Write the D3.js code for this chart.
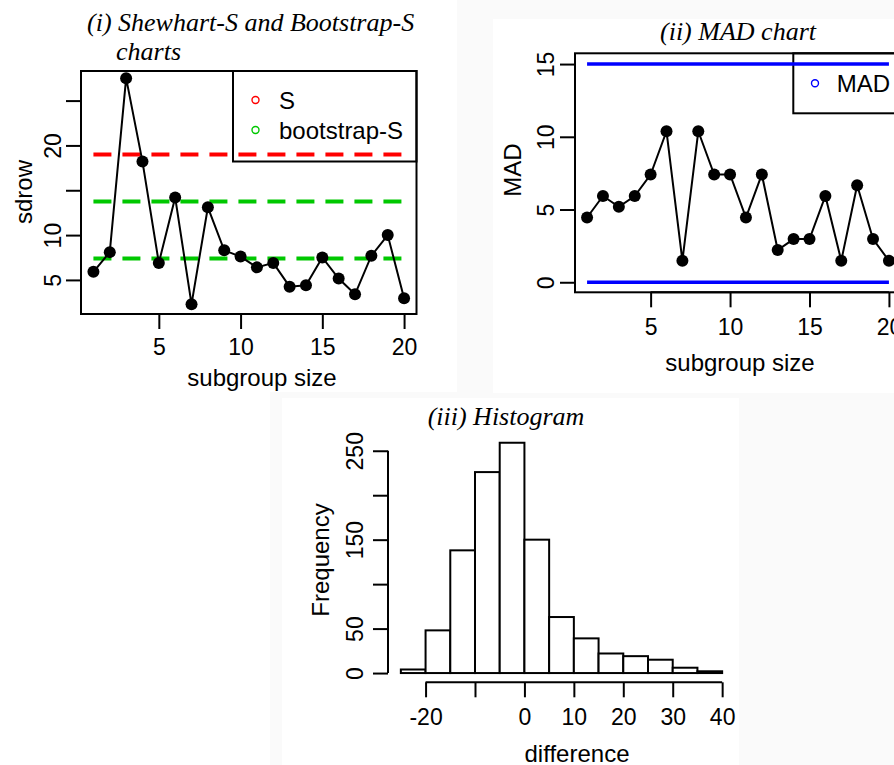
<!DOCTYPE html>
<html>
<head>
<meta charset="utf-8">
<script src="https://cdn.jsdelivr.net/npm/d3@7"></script>
<style>
	body { margin: 0; background: #fafafa; }
	svg { display: block; font-family: 'Liberation Sans', Arial, sans-serif; }
</style>
</head>
<body>
<div id="container"></div>
<script>
// subgroup index, shared by the S chart and the MAD chart
var subgroups = d3.range(1, 21);

// (i) standard deviation of each subgroup and the two kinds of limits
var sdrow = [5.9, 8.1, 27.5, 18.2, 6.9, 14.2, 2.3, 13.1, 8.3, 7.6, 6.4, 6.9, 4.25, 4.4, 7.5, 5.15, 3.4, 7.7, 10.0, 2.95];
var sLimits = [19.0];
var bootLimits = [13.75, 7.4];
var sLegend = ["S", "bootstrap-S"];

// (ii) MAD of each subgroup and its limits
var madValues = [4.45, 5.93, 5.19, 5.93, 7.41, 10.38, 1.48, 10.38, 7.41, 7.41, 4.45, 7.41, 2.22, 2.97, 2.97, 5.93, 1.48, 6.67, 2.97, 1.48];
var madLimits = [0, 15];
var madLegend = ["MAD"];

// (iii) histogram of the differences
var histBreaks = [-25, -20, -15, -10, -5, 0, 5, 10, 15, 20, 25, 30, 35, 40];
var histCounts = [4, 48, 138, 226, 259, 150, 63, 39, 22, 19, 15, 6, 2];

// tick values, and the ones R kept a label for
var xTicksSub = [5, 10, 15, 20];
var yTicksS = [5, 10, 15, 20, 25];
var yLabelsS = [5, 10, 20];
var yTicksMad = [0, 5, 10, 15];
var xTicksHist = [-20, -10, 0, 10, 20, 30, 40];
var xLabelsHist = [-20, 0, 10, 20, 30, 40];
var yTicksHist = [0, 50, 100, 150, 200, 250];
var yLabelsHist = [0, 50, 150, 250];

var config = {
	width: 894,
	height: 765,
	sans: "'Liberation Sans', Arial, sans-serif",
	serif: "'Liberation Serif', 'Times New Roman', serif",
	tickLen: 15,
	titleSize: 26,
	red: "#ff0000",
	green: "#00c800",
	blue: "#0000ff"
};

var svg = d3.select("#container")
	.append("svg")
	.attr("width", config.width)
	.attr("height", config.height);

// the three pasted R pictures sit on white over a faint grey page
[[0, 0, 457, 392], [493, 19, 401, 374], [0, 392, 270, 373], [282, 398, 457, 367]].forEach(function(r) {
	svg.append("rect")
		.attr("x", r[0]).attr("y", r[1])
		.attr("width", r[2]).attr("height", r[3])
		.attr("fill", "#fff");
});

function labelFormat(labels) {
	return function(d) { return labels.indexOf(d) >= 0 ? String(d) : ""; };
}

function drawBottomAxis(g, scale, ticks, labels, y, labelOffset) {
	var ax = g.append("g")
		.attr("transform", "translate(0," + y + ")")
		.call(d3.axisBottom(scale).tickValues(ticks).tickSize(config.tickLen).tickFormat(labelFormat(labels)));
	ax.select(".domain").remove();
	ax.attr("font-size", null).attr("font-family", null);
	ax.selectAll(".tick line").attr("stroke", "#000").attr("stroke-width", 2);
	ax.selectAll(".tick text")
		.attr("y", labelOffset)
		.attr("dy", null)
		.attr("dominant-baseline", "central")
		.attr("fill", "#000")
		.style("font-family", config.sans)
		.style("font-size", "23px");
	ax.append("line")
		.attr("x1", scale(ticks[0]))
		.attr("x2", scale(ticks[ticks.length - 1]))
		.attr("stroke", "#000")
		.attr("stroke-width", 2);
}

function drawLeftAxis(g, scale, ticks, labels, x, labelOffset) {
	var ax = g.append("g")
		.attr("transform", "translate(" + x + ",0)")
		.call(d3.axisLeft(scale).tickValues(ticks).tickSize(config.tickLen).tickFormat(labelFormat(labels)));
	ax.select(".domain").remove();
	ax.attr("font-size", null).attr("font-family", null);
	ax.selectAll(".tick line").attr("stroke", "#000").attr("stroke-width", 2);
	ax.selectAll(".tick text")
		.attr("x", 0)
		.attr("dy", null)
		.attr("text-anchor", "middle")
		.attr("dominant-baseline", "central")
		.attr("transform", "translate(" + (-labelOffset) + ",0) rotate(-90)")
		.attr("fill", "#000")
		.style("font-family", config.sans)
		.style("font-size", "23px");
	ax.append("line")
		.attr("y1", scale(ticks[0]))
		.attr("y2", scale(ticks[ticks.length - 1]))
		.attr("stroke", "#000")
		.attr("stroke-width", 2);
}

function drawText(g, txt, x, y, opts) {
	var t = g.append("text")
		.attr("x", x)
		.attr("y", y)
		.attr("text-anchor", opts.anchor || "middle")
		.attr("dominant-baseline", opts.baseline || "central")
		.style("font-family", opts.family || config.sans)
		.style("font-size", (opts.size || 24) + "px")
		.style("font-style", opts.italic ? "italic" : "normal")
		.attr("fill", "#000")
		.text(txt);
	if (opts.rotate) {
		t.attr("transform", "rotate(-90," + x + "," + y + ")");
	}
	return t;
}

function drawSeries(g, x, y, values) {
	var line = d3.line()
		.x(function(d, i) { return x(subgroups[i]); })
		.y(function(d) { return y(d); });
	g.append("path")
		.datum(values)
		.attr("d", line)
		.attr("fill", "none")
		.attr("stroke", "#000")
		.attr("stroke-width", 2);
	g.selectAll("circle.pt")
		.data(values)
		.enter()
		.append("circle")
		.attr("class", "pt")
		.attr("cx", function(d, i) { return x(subgroups[i]); })
		.attr("cy", function(d) { return y(d); })
		.attr("r", 6)
		.attr("fill", "#000");
}

function drawLimits(g, x, y, values, color, dash, width) {
	g.selectAll(null)
		.data(values)
		.enter()
		.append("line")
		.attr("x1", x(subgroups[0]))
		.attr("x2", x(subgroups[subgroups.length - 1]))
		.attr("y1", function(d) { return y(d); })
		.attr("y2", function(d) { return y(d); })
		.attr("stroke", color)
		.attr("stroke-width", width)
		.attr("stroke-dasharray", dash);
}

function drawLegend(g, box, labels, colors) {
	g.append("rect")
		.attr("x", box.x).attr("y", box.y)
		.attr("width", box.w).attr("height", box.h)
		.attr("fill", "#fff")
		.attr("stroke", "#000")
		.attr("stroke-width", 2);
	labels.forEach(function(lab, i) {
		var cy = box.y + box.first + i * box.step;
		g.append("circle")
			.attr("cx", box.x + box.mark)
			.attr("cy", cy)
			.attr("r", 3.5)
			.attr("fill", "none")
			.attr("stroke", colors[i])
			.attr("stroke-width", 1.4);
		drawText(g, lab, box.x + box.text, cy, {anchor: "start"});
	});
}

// ---------- (i) Shewhart-S and Bootstrap-S ----------
var p1 = {left: 81, right: 416.5, top: 71, bottom: 314};
var g1 = svg.append("g").attr("class", "panel-s");
var x1 = d3.scaleLinear().domain([0.24, 20.76]).range([p1.left, p1.right]);
var y1 = d3.scaleLinear().domain([1.2, 28.3]).range([p1.bottom, p1.top]);

drawLimits(g1, x1, y1, bootLimits, config.green, "18,11", 4);
drawLegend(g1, {x: 233, y: p1.top, w: p1.right - 233, h: 90.5, first: 29, step: 30, mark: 22.5, text: 46},
	sLegend, [config.red, config.green]);
// the red limit is drawn over the legend box
drawLimits(g1, x1, y1, sLimits, config.red, "18,11", 4);
drawSeries(g1, x1, y1, sdrow);

g1.append("rect")
	.attr("x", p1.left).attr("y", p1.top)
	.attr("width", p1.right - p1.left).attr("height", p1.bottom - p1.top)
	.attr("fill", "none").attr("stroke", "#000").attr("stroke-width", 2);
drawBottomAxis(g1, x1, xTicksSub, xTicksSub, p1.bottom, 33);
drawLeftAxis(g1, y1, yTicksS, yLabelsS, p1.left, 28);
drawText(g1, "subgroup size", 262, 377, {});
drawText(g1, "sdrow", 23, 192, {rotate: true});
drawText(g1, "(i) Shewhart-S and Bootstrap-S", 87, 31, {anchor: "start", baseline: "auto", family: config.serif, italic: true, size: config.titleSize});
drawText(g1, "charts", 116, 60, {anchor: "start", baseline: "auto", family: config.serif, italic: true, size: config.titleSize});

// ---------- (ii) MAD chart ----------
var p2 = {left: 575, right: 901, top: 53.3, bottom: 292.3};
var g2 = svg.append("g").attr("class", "panel-mad");
var x2 = d3.scaleLinear().domain([0.24, 20.76]).range([p2.left, p2.right]);
var y2 = d3.scaleLinear().domain([-0.69, 15.74]).range([p2.bottom, p2.top]);

drawLegend(g2, {x: 793.3, y: p2.top, w: p2.right - 793.3, h: 60, first: 30, step: 30, mark: 21.7, text: 43.4},
	madLegend, [config.blue]);
drawLimits(g2, x2, y2, madLimits, config.blue, null, 3.5);
drawSeries(g2, x2, y2, madValues);

g2.append("rect")
	.attr("x", p2.left).attr("y", p2.top)
	.attr("width", p2.right - p2.left).attr("height", p2.bottom - p2.top)
	.attr("fill", "none").attr("stroke", "#000").attr("stroke-width", 2);
drawBottomAxis(g2, x2, xTicksSub, xTicksSub, p2.bottom, 34.5);
drawLeftAxis(g2, y2, yTicksMad, yTicksMad, p2.left, 29);
drawText(g2, "subgroup size", 740, 362, {});
drawText(g2, "MAD", 512, 170, {rotate: true});
drawText(g2, "(ii) MAD chart", 738, 40, {baseline: "auto", family: config.serif, italic: true, size: config.titleSize});

// ---------- (iii) Histogram ----------
var p3 = {left: 388, right: 735, top: 433.5, bottom: 682.3};
var g3 = svg.append("g").attr("class", "panel-hist");
var x3 = d3.scaleLinear().domain([-27.6, 42.6]).range([p3.left, p3.right]);
var y3 = d3.scaleLinear().domain([-10.4, 269.4]).range([p3.bottom, p3.top]);

g3.selectAll("rect.bar")
	.data(histCounts)
	.enter()
	.append("rect")
	.attr("class", "bar")
	.attr("x", function(d, i) { return x3(histBreaks[i]); })
	.attr("width", function(d, i) { return x3(histBreaks[i + 1]) - x3(histBreaks[i]); })
	.attr("y", function(d) { return y3(d); })
	.attr("height", function(d) { return y3(0) - y3(d); })
	.attr("fill", "#fff")
	.attr("stroke", "#000")
	.attr("stroke-width", 2);

drawBottomAxis(g3, x3, xTicksHist, xLabelsHist, p3.bottom, 34.5);
drawLeftAxis(g3, y3, yTicksHist, yLabelsHist, p3.left, 33);
drawText(g3, "difference", 577, 753, {});
drawText(g3, "Frequency", 320, 560, {rotate: true});
drawText(g3, "(iii) Histogram", 506, 425, {baseline: "auto", family: config.serif, italic: true, size: config.titleSize});
</script>
</body>
</html>
